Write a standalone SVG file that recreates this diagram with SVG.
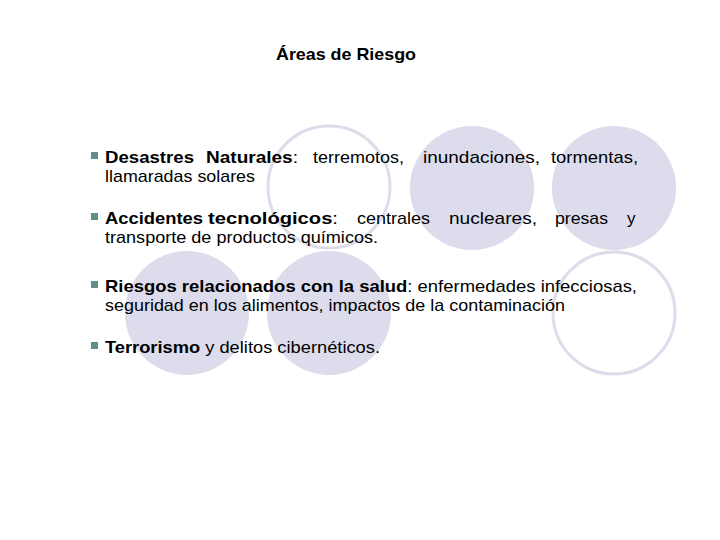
<svg xmlns="http://www.w3.org/2000/svg" width="720" height="540" viewBox="0 0 720 540">
<style>
text{font-family:"Liberation Sans",Arial,sans-serif;font-size:17px;fill:#000}
.b{font-weight:bold}
.f{fill:#dcdcec}
.o{fill:none;stroke:#dcdcea;stroke-width:3}
.blt{fill:#5f8f8a}
</style>
<rect width="720" height="540" fill="#fff"/>
<g id="circles">
<circle class="o" cx="329" cy="187" r="61"/>
<circle class="f" cx="472" cy="188" r="62"/>
<circle class="f" cx="614" cy="188" r="62"/>
<circle class="f" cx="187" cy="313" r="62"/>
<circle class="f" cx="329" cy="313" r="62"/>
<circle class="o" cx="614" cy="313" r="61"/>
</g>
<text class="b" x="276" y="60" font-size="16" textLength="140" lengthAdjust="spacingAndGlyphs">Áreas de Riesgo</text>
<g id="bullets">
<rect class="blt" x="91" y="152" width="7" height="7"/>
<rect class="blt" x="91" y="213" width="7" height="7"/>
<rect class="blt" x="91" y="281" width="7" height="7"/>
<rect class="blt" x="91" y="342" width="7" height="7"/>
</g>
<g id="t1">
<text x="105" y="163" class="b" textLength="89" lengthAdjust="spacingAndGlyphs">Desastres</text>
<text x="206" y="163" textLength="92" lengthAdjust="spacingAndGlyphs"><tspan class="b">Naturales</tspan>:</text>
<text x="313" y="163" textLength="91" lengthAdjust="spacingAndGlyphs">terremotos,</text>
<text x="423" y="163" textLength="117" lengthAdjust="spacingAndGlyphs">inundaciones,</text>
<text x="551" y="163" textLength="87" lengthAdjust="spacingAndGlyphs">tormentas,</text>
<text x="105" y="182" textLength="150" lengthAdjust="spacingAndGlyphs">llamaradas solares</text>
</g>
<g id="t2">
<text x="105" y="224" class="b" textLength="98" lengthAdjust="spacingAndGlyphs">Accidentes</text>
<text x="208" y="224" textLength="130" lengthAdjust="spacingAndGlyphs"><tspan class="b">tecnológicos</tspan>:</text>
<text x="357" y="224" textLength="73" lengthAdjust="spacingAndGlyphs">centrales</text>
<text x="449" y="224" textLength="88" lengthAdjust="spacingAndGlyphs">nucleares,</text>
<text x="555" y="224" textLength="53" lengthAdjust="spacingAndGlyphs">presas</text>
<text x="627" y="224">y</text>
<text x="105" y="243" textLength="273" lengthAdjust="spacingAndGlyphs">transporte de productos químicos.</text>
</g>
<g id="t3">
<text x="105" y="292" textLength="532" lengthAdjust="spacingAndGlyphs"><tspan class="b">Riesgos relacionados con la salud</tspan>: enfermedades infecciosas,</text>
<text x="105" y="311" textLength="460" lengthAdjust="spacingAndGlyphs">seguridad en los alimentos, impactos de la contaminación</text>
</g>
<g id="t4">
<text x="105" y="353" textLength="275" lengthAdjust="spacingAndGlyphs"><tspan class="b">Terrorismo</tspan> y delitos cibernéticos.</text>
</g>
</svg>
